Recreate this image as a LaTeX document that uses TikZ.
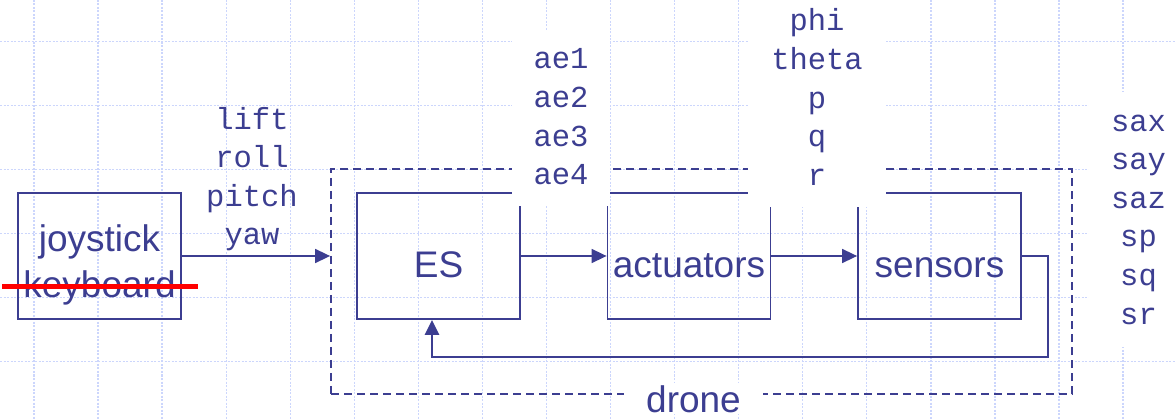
\documentclass[tikz,border=0pt]{standalone}
\usepackage{fontspec}
\setmainfont{Liberation Sans}
\newfontfamily\courfont{Liberation Mono}
\usepackage{tikz}
\usetikzlibrary{arrows.meta,calc}
\definecolor{ppnavy}{RGB}{60,62,145}
\definecolor{ppgrid}{RGB}{204,214,252}
\newcommand\tallstrut{\rule{0pt}{44pt}}

\begin{document}
\begin{tikzpicture}[
  x=1pt, y=-1pt,
  gridln/.style={ppgrid, line width=1.3pt, dash pattern=on 2pt off 1.5pt},
  blk/.style={draw=ppnavy, line width=1.8pt, minimum width=163pt, minimum height=126pt, inner sep=0pt, text=ppnavy, font=\fontsize{37}{46}\selectfont, align=center, execute at begin node=\tallstrut},
  dronebox/.style={draw=ppnavy, line width=1.8pt, dash pattern=on 8pt off 5pt, minimum width=741pt, minimum height=225pt, inner sep=0pt},
  sig/.style={text=ppnavy, font=\courfont\fontsize{30.5}{38.6}\selectfont, align=center, inner sep=0pt},
  arr/.style={-{Triangle[length=15pt,width=14pt]}, ppnavy, line width=1.6pt},
  fb/.style={arr, line width=2.4pt},
  strike/.style={red, line width=5pt},
]
% ---- background grid ----
\useasboundingbox (0,0) rectangle (1175,419);
\clip (0,0) rectangle (1175,419);
\foreach \k in {0,...,17}
  \draw[gridln] ({34+64.06*\k},0) -- ({34+64.06*\k},419);
\foreach \j in {0,...,5}
  \draw[gridln] (0,{41.7+64*\j}) -- (1175,{41.7+64*\j});
% ---- drone frame and blocks ----
\node[dronebox] (drone) at (701.5,281.5) {};
\node[blk] (joy) at (99.5,256) {\tallstrut joystick\\keyboard};
\node[blk] (es) at (438.5,256) {ES};
\node[blk] (act) at (689,256) {actuators};
\node[blk] (sen) at (939.5,256) {sensors};
% ---- arrows ----
\draw[arr] (joy.east) -- (joy.east -| drone.west);
\draw[arr] (es) -- (act);
\draw[arr] (act) -- (sen);
% feedback loop
\coordinate (fbcorner) at (432,357);
\draw[fb] (sen.east) -- ++(26,0) |- (fbcorner) -- (fbcorner |- es.south);
% crossed out
\draw[strike] ([xshift=-15pt,yshift=-31pt]joy.west) -- ([xshift=16pt,yshift=-31pt]joy.east);
% ---- signal names ----
\node[sig] (ctl) at (252,179.3) {\strut lift\\roll\\pitch\\yaw\strut};
\node[sig, fill=white, minimum width=98pt, minimum height=175pt] (aes) at (561,119) {\strut ae1\\ae2\\ae3\\ae4\strut};
\node[sig, fill=white, minimum width=138pt, minimum height=214pt] (att) at (817,100.3) {\strut phi\\theta\\p\\q\\r\strut};
\node[sig, fill=white, minimum width=100pt, minimum height=255pt] (sns) at (1138.5,219.8) {\strut sax\\say\\saz\\sp\\sq\\sr\strut};
\node[text=ppnavy, font=\fontsize{37}{46}\selectfont, fill=white, anchor=base, inner xsep=22pt, inner ysep=2pt] (dlab) at (693.5,412) {drone};
\end{tikzpicture}
\end{document}
